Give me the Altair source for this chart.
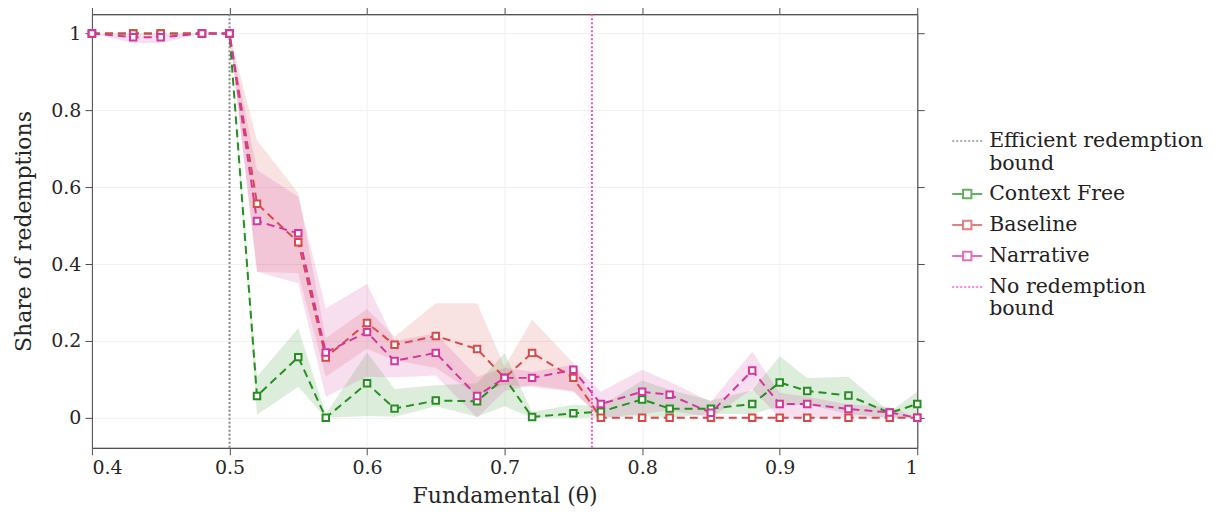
import altair as alt
import pandas as pd

# ---------------- data ----------------
theta = [0.40, 0.43, 0.45, 0.48, 0.50, 0.52, 0.55, 0.57, 0.60, 0.62, 0.65, 0.68, 0.70,
         0.72, 0.75, 0.77, 0.80, 0.82, 0.85, 0.88, 0.90, 0.92, 0.95, 0.98, 1.00]

cf_mean = [1, 1, 1, 1, 1, 0.057, 0.158, 0.0, 0.09, 0.024, 0.045, 0.043, 0.104,
           0.002, 0.012, 0.016, 0.048, 0.024, 0.024, 0.036, 0.092, 0.070, 0.058, 0.013, 0.036]
cf_lo = [1, 1, 1, 1, 1, 0.008, 0.081, 0.0, 0.005, 0.003, 0.03, 0.003, 0.03,
         0.0, 0.0, 0.0, 0.004, 0.0, 0.01, 0.01, 0.03, 0.035, 0.01, 0.0, 0.0]
cf_hi = [1, 1, 1, 1, 1, 0.107, 0.233, 0.01, 0.17, 0.075, 0.085, 0.09, 0.168,
         0.015, 0.034, 0.03, 0.097, 0.073, 0.045, 0.072, 0.16, 0.104, 0.107, 0.015, 0.068]

bl_mean = [1, 1, 1, 1, 1, 0.557, 0.457, 0.157, 0.247, 0.19, 0.213, 0.179, 0.104,
           0.169, 0.104, 0, 0, 0, 0, 0, 0, 0, 0, 0, 0]
bl_lo = [1, 1, 1, 1, 1, 0.38, 0.376, 0.107, 0.18, 0.15, 0.13, 0.06, 0.086,
         0.08, 0.068, 0, 0, 0, 0, 0, 0, 0, 0, 0, 0]
bl_hi = [1, 1, 1, 1, 1, 0.722, 0.584, 0.208, 0.283, 0.211, 0.298, 0.298, 0.133,
         0.255, 0.143, 0, 0, 0, 0, 0, 0, 0, 0, 0, 0]

nr_mean = [1, 0.99, 0.99, 1, 1, 0.512, 0.48, 0.17, 0.223, 0.148, 0.169, 0.057, 0.104,
           0.104, 0.125, 0.036, 0.068, 0.06, 0.013, 0.123, 0.036, 0.036, 0.023, 0.014, 0.0]
nr_lo = [1, 0.975, 0.975, 1, 1, 0.38, 0.35, 0.055, 0.107, 0.105, 0.11, 0.0, 0.07,
         0.085, 0.07, 0.0, 0.01, 0.02, 0.0, 0.075, 0.0, 0.0, 0.0, 0.0, 0.0]
nr_hi = [1, 1, 1, 1, 1, 0.645, 0.575, 0.285, 0.348, 0.2, 0.22, 0.107, 0.13,
         0.12, 0.138, 0.068, 0.125, 0.094, 0.042, 0.172, 0.065, 0.055, 0.035, 0.028, 0.0]

efficient_bound = 0.5
no_redemption_bound = 0.7635

legend_names = ["Efficient redemption|bound", "Context Free", "Baseline", "Narrative",
                "No redemption|bound"]
legend_colors = ["#8c8c8c", "#23901f", "#d84a4a", "#d4359f", "#ff4fc8"]

series = [
    ("Context Free", cf_mean, cf_lo, cf_hi, "#23901f"),
    ("Baseline", bl_mean, bl_lo, bl_hi, "#d84a4a"),
    ("Narrative", nr_mean, nr_lo, nr_hi, "#d4359f"),
]

# ---------------- chart ----------------
FONT = "DejaVu Serif"
xscale = alt.Scale(domain=[0.4, 1.0], nice=False, zero=False)
yscale = alt.Scale(domain=[-0.078, 1.05], nice=False, zero=False)

x_bottom = alt.Axis(values=[0.4, 0.5, 0.6, 0.7, 0.8, 0.9, 1.0], format="~g",
                    title="Fundamental (θ)", grid=True, orient="bottom")
y_left = alt.Axis(values=[0, 0.2, 0.4, 0.6, 0.8, 1.0], format="~g",
                  title="Share of redemptions", grid=True, orient="left")
x_top = alt.Axis(values=[0.4, 0.5, 0.6, 0.7, 0.8, 0.9, 1.0], labels=False, title=None,
                 grid=False, orient="top")
y_right = alt.Axis(values=[0, 0.2, 0.4, 0.6, 0.8, 1.0], labels=False, title=None,
                   grid=False, orient="right")

layers = []

# bands
for name, m, lo, hi, col in series:
    df = pd.DataFrame({"theta": theta, "lo": lo, "hi": hi})
    layers.append(
        alt.Chart(df).mark_area(color=col, opacity=0.16, clip=True).encode(
            x=alt.X("theta:Q", scale=xscale, axis=None),
            y=alt.Y("lo:Q", scale=yscale, axis=None),
            y2="hi:Q",
        )
    )

# layers that carry the axes
df0 = pd.DataFrame({"theta": theta, "v": cf_mean})
axis_layer = alt.Chart(df0).mark_point(opacity=0).encode(
    x=alt.X("theta:Q", scale=xscale, axis=x_bottom),
    y=alt.Y("v:Q", scale=yscale, axis=y_left),
)
axis_layer2 = alt.Chart(df0).mark_point(opacity=0).encode(
    x=alt.X("theta:Q", scale=xscale, axis=x_top),
    y=alt.Y("v:Q", scale=yscale, axis=y_right),
)

# efficient bound rule
layers.append(
    alt.Chart(pd.DataFrame({"b": [efficient_bound]})).mark_rule(
        color="#8c8c8c", strokeDash=[2, 2], strokeWidth=2).encode(
        x=alt.X("b:Q", scale=xscale, axis=None))
)

# lines and markers
for name, m, lo, hi, col in series:
    df = pd.DataFrame({"theta": theta, "v": m})
    layers.append(
        alt.Chart(df).mark_line(color=col, strokeDash=[8, 5], strokeWidth=2, clip=True).encode(
            x=alt.X("theta:Q", scale=xscale, axis=None),
            y=alt.Y("v:Q", scale=yscale, axis=None),
        )
    )
for name, m, lo, hi, col in series:
    df = pd.DataFrame({"theta": theta, "v": m})
    layers.append(
        alt.Chart(df).mark_point(shape="square", filled=True, fill="white", stroke=col,
                                 strokeWidth=2, size=42, opacity=1).encode(
            x=alt.X("theta:Q", scale=xscale, axis=None),
            y=alt.Y("v:Q", scale=yscale, axis=None),
        )
    )

# no redemption bound rule
layers.append(
    alt.Chart(pd.DataFrame({"b": [no_redemption_bound]})).mark_rule(
        color="#ff4fc8", strokeDash=[2, 2], strokeWidth=2).encode(
        x=alt.X("b:Q", scale=xscale, axis=None))
)

# legend layer (points placed outside the plot and clipped)
series_path = "M-1,0H-0.28M0.28,0H1M-0.28,-0.28H0.28V0.28H-0.28Z"
bound_path = "M-1,0H1"
leg_df = pd.DataFrame({"name": legend_names, "theta": [-1] * 5, "v": [-1] * 5})
legend_layer = alt.Chart(leg_df).mark_point(clip=True, filled=False, strokeWidth=2).encode(
    x=alt.X("theta:Q", scale=xscale, axis=None),
    y=alt.Y("v:Q", scale=yscale, axis=None),
    color=alt.Color("name:N", sort=legend_names,
                    scale=alt.Scale(domain=legend_names, range=legend_colors),
                    legend=alt.Legend(title=None, orient="none", legendX=860, legendY=111,
                                      symbolSize=900, symbolStrokeWidth=2,
                                      labelFontSize=20.5, labelFont=FONT, labelColor="#222222",
                                      labelLimit=0, labelOffset=6, rowPadding=4, padding=0,
                                      labelExpr="split(datum.label, '|')")),
    shape=alt.Shape("name:N", sort=legend_names,
                    scale=alt.Scale(domain=legend_names,
                                    range=[bound_path, series_path, series_path,
                                           series_path, bound_path])),
    strokeDash=alt.StrokeDash("name:N", sort=legend_names,
                              scale=alt.Scale(domain=legend_names,
                                              range=[[2, 2], [1, 0], [1, 0], [1, 0], [2, 2]])),
)

chart = alt.layer(axis_layer, axis_layer2, *layers, legend_layer).resolve_axis(
    x="independent", y="independent"
).properties(
    width=826, height=434,
    autosize=alt.AutoSizeParams(type="none"),
    padding={"left": 84, "top": 6, "right": 290, "bottom": 60},
).configure_view(
    stroke="#4d4d4d", strokeWidth=1
).configure_axis(
    domainColor="#4d4d4d", tickColor="#4d4d4d", tickSize=7, tickWidth=1,
    gridColor="#f0f0f0", gridWidth=1,
    labelFont=FONT, labelFontSize=19, labelColor="#262626", labelPadding=4,
    titleFont=FONT, titleFontSize=22, titleColor="#262626", titleFontWeight="normal",
).configure_axisLeft(titlePadding=15).configure_axisBottom(titlePadding=8)

chart.save("out.html", embed_options={"renderer": "svg", "actions": False})
